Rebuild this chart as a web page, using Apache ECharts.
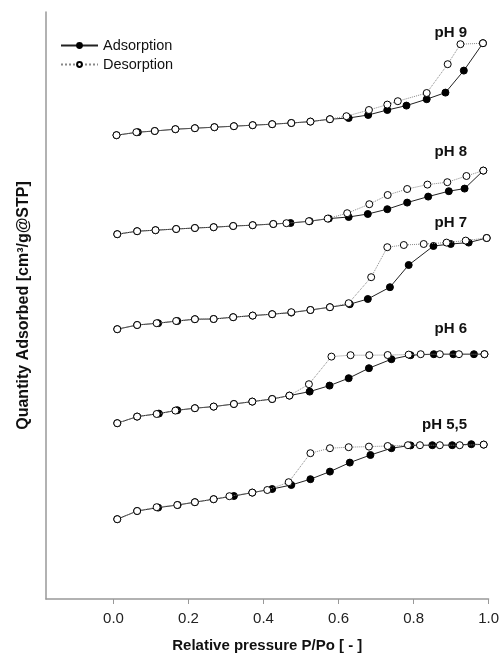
<!DOCTYPE html>
<html>
<head>
<meta charset="utf-8">
<style>
  html, body { margin: 0; padding: 0; background: #fff; }
  #chart { width: 502px; height: 661px; }
</style>
<script src="https://cdn.jsdelivr.net/npm/echarts@6/dist/echarts.min.js"></script>
</head>
<body>
<div id="chart"></div>
<script>
// Nitrogen isotherms, one curve pair per pH, stacked vertically.
// Each point: [relative pressure P/Po, quantity adsorbed (offset per curve)]

const ph9Ads = [[0.008,231.9],[0.065,233.4],[0.110,234.0],[0.165,234.9],[0.217,235.4],[0.269,235.9],[0.321,236.4],[0.371,236.9],[0.423,237.4],[0.474,238.0],[0.525,238.7],[0.577,239.9],[0.627,240.5],[0.679,242.0],[0.730,244.5],[0.781,246.7],[0.835,249.9],[0.885,253.2],[0.934,264.2],[0.985,277.9]];
const ph9Des = [[0.985,277.9],[0.925,277.4],[0.891,267.4],[0.835,253.0],[0.758,248.9],[0.730,247.2],[0.681,244.5],[0.621,241.4],[0.577,239.9],[0.525,238.7],[0.474,238.0],[0.423,237.4],[0.371,236.9],[0.321,236.4],[0.269,235.9],[0.217,235.4],[0.165,234.9],[0.110,234.0],[0.061,233.4],[0.008,231.9]];

const ph8Ads = [[0.010,182.4],[0.063,183.9],[0.112,184.4],[0.167,185.0],[0.217,185.5],[0.267,185.9],[0.319,186.5],[0.371,186.9],[0.426,187.5],[0.472,188.0],[0.523,188.9],[0.574,190.2],[0.627,191.0],[0.678,192.5],[0.730,194.9],[0.783,198.2],[0.839,201.2],[0.894,203.9],[0.936,205.2],[0.986,214.2]];
const ph8Des = [[0.986,214.2],[0.941,211.5],[0.890,208.4],[0.837,207.2],[0.783,205.0],[0.731,202.0],[0.682,197.4],[0.623,192.9],[0.571,190.2],[0.521,188.9],[0.461,187.9],[0.426,187.5],[0.371,186.9],[0.319,186.5],[0.267,185.9],[0.217,185.5],[0.167,185.0],[0.112,184.4],[0.063,183.9],[0.010,182.4]];

const ph7Ads = [[0.010,134.9],[0.063,137.0],[0.119,137.9],[0.170,139.0],[0.217,139.9],[0.267,140.0],[0.319,140.9],[0.371,141.7],[0.423,142.4],[0.474,143.2],[0.525,144.5],[0.577,145.9],[0.630,147.4],[0.678,150.0],[0.737,155.9],[0.787,167.0],[0.853,176.5],[0.899,177.5],[0.947,178.2],[0.995,180.5]];
const ph7Des = [[0.995,180.5],[0.939,179.2],[0.888,178.2],[0.827,177.5],[0.774,177.0],[0.730,175.9],[0.687,160.9],[0.627,147.9],[0.577,145.9],[0.525,144.5],[0.474,143.4],[0.423,142.4],[0.371,141.7],[0.319,140.9],[0.267,140.0],[0.217,139.9],[0.167,139.0],[0.115,137.9],[0.063,137.0],[0.010,134.9]];

const ph6Ads = [[0.010,87.9],[0.063,91.2],[0.121,92.7],[0.170,94.4],[0.217,95.4],[0.267,96.2],[0.321,97.5],[0.370,98.7],[0.423,100.0],[0.469,101.7],[0.523,103.7],[0.576,106.7],[0.627,110.4],[0.681,115.4],[0.741,119.9],[0.792,121.9],[0.854,122.4],[0.906,122.4],[0.961,122.4],[0.989,122.4]];
const ph6Des = [[0.989,122.4],[0.921,122.4],[0.870,122.4],[0.819,122.4],[0.787,122.2],[0.731,122.0],[0.682,121.9],[0.632,121.9],[0.581,121.2],[0.521,107.4],[0.469,101.7],[0.423,100.0],[0.370,98.7],[0.321,97.5],[0.267,96.2],[0.217,95.4],[0.165,94.2],[0.115,92.5],[0.063,91.2],[0.010,87.9]];

const ph55Ads = [[0.010,39.9],[0.063,44.0],[0.119,45.7],[0.171,47.0],[0.217,48.4],[0.267,49.9],[0.321,51.5],[0.370,53.2],[0.423,55.0],[0.474,57.0],[0.525,59.9],[0.577,63.7],[0.630,68.2],[0.685,72.0],[0.741,75.4],[0.792,76.8],[0.850,76.9],[0.903,76.9],[0.954,77.4],[0.987,77.2]];
const ph55Des = [[0.987,77.2],[0.923,76.9],[0.870,76.9],[0.817,76.9],[0.785,76.9],[0.731,76.5],[0.681,76.2],[0.627,75.9],[0.577,75.4],[0.525,72.9],[0.467,58.4],[0.410,54.5],[0.370,53.2],[0.309,51.4],[0.267,49.9],[0.217,48.4],[0.170,47.0],[0.115,45.9],[0.063,44.0],[0.010,39.9]];

const xTicks = [0.0, 0.2, 0.4, 0.6, 0.8, 1.0];
const curveNames = ['pH 9', 'pH 8', 'pH 7', 'pH 6', 'pH 5,5'];

const FONT = "'Liberation Sans', Arial, sans-serif";

function adsSeries(data) {
  return {
    name: 'Adsorption', type: 'line', data: data,
    symbol: 'circle', symbolSize: 7, z: 2,
    lineStyle: { color: '#222', width: 1 },
    itemStyle: { color: '#000', borderColor: '#000', borderWidth: 1 },
    animation: false
  };
}
function desSeries(data) {
  return {
    name: 'Desorption', type: 'line', data: data,
    symbol: 'circle', symbolSize: 7, z: 3,
    lineStyle: { color: '#888', width: 1, type: 'dotted' },
    itemStyle: { color: '#fff', borderColor: '#000', borderWidth: 1 },
    animation: false
  };
}

// Curve names sit just above the right end of each isotherm
const labelY = [33, 152, 223, 329, 425];
const labelGraphics = curveNames.map((t, i) => ({
  type: 'text', right: 502 - 467, top: labelY[i] - 8,
  style: { text: t, font: "bold 15px " + FONT, fill: '#111', textAlign: 'right' }
}));

const chart = echarts.init(document.getElementById('chart'), null, { renderer: 'canvas' });
chart.setOption({
  backgroundColor: '#fff',
  animation: false,
  grid: { left: 46, right: 13, top: 12, bottom: 62 },
  legend: {
    data: ['Adsorption', 'Desorption'],
    orient: 'vertical', left: 60, top: 38, itemGap: 4, padding: 0,
    itemWidth: 37, itemHeight: 6,
    textStyle: { fontFamily: FONT, fontSize: 14.5, color: '#111' }
  },
  xAxis: {
    type: 'value', min: -0.18, max: 1.0,
    name: 'Relative pressure P/Po [ - ]',
    nameLocation: 'middle', nameGap: 39,
    nameTextStyle: { fontFamily: FONT, fontSize: 15, fontWeight: 'bold', color: '#111' },
    axisLine: { onZero: false, lineStyle: { color: '#999', width: 1.5 } },
    axisTick: { show: true, length: 5, lineStyle: { color: '#999' }, customValues: xTicks },
    axisLabel: {
      customValues: xTicks, margin: 12,
      fontFamily: FONT, fontSize: 15, color: '#222',
      formatter: v => v.toFixed(1)
    },
    splitLine: { show: false }
  },
  yAxis: {
    type: 'value', min: 0, max: 293.5,
    name: 'Quantity Adsorbed [cm³/g@STP]',
    nameLocation: 'middle', nameGap: 14,
    nameTextStyle: { fontFamily: FONT, fontSize: 16, fontWeight: 'bold', color: '#111' },
    axisLine: { show: true, onZero: false, lineStyle: { color: '#999', width: 1.5 } },
    axisTick: { show: false },
    axisLabel: { show: false },
    splitLine: { show: false }
  },
  graphic: labelGraphics,
  series: [
    adsSeries(ph9Ads), adsSeries(ph8Ads), adsSeries(ph7Ads), adsSeries(ph6Ads), adsSeries(ph55Ads),
    desSeries(ph9Des), desSeries(ph8Des), desSeries(ph7Des), desSeries(ph6Des), desSeries(ph55Des)
  ]
});
</script>
</body>
</html>
